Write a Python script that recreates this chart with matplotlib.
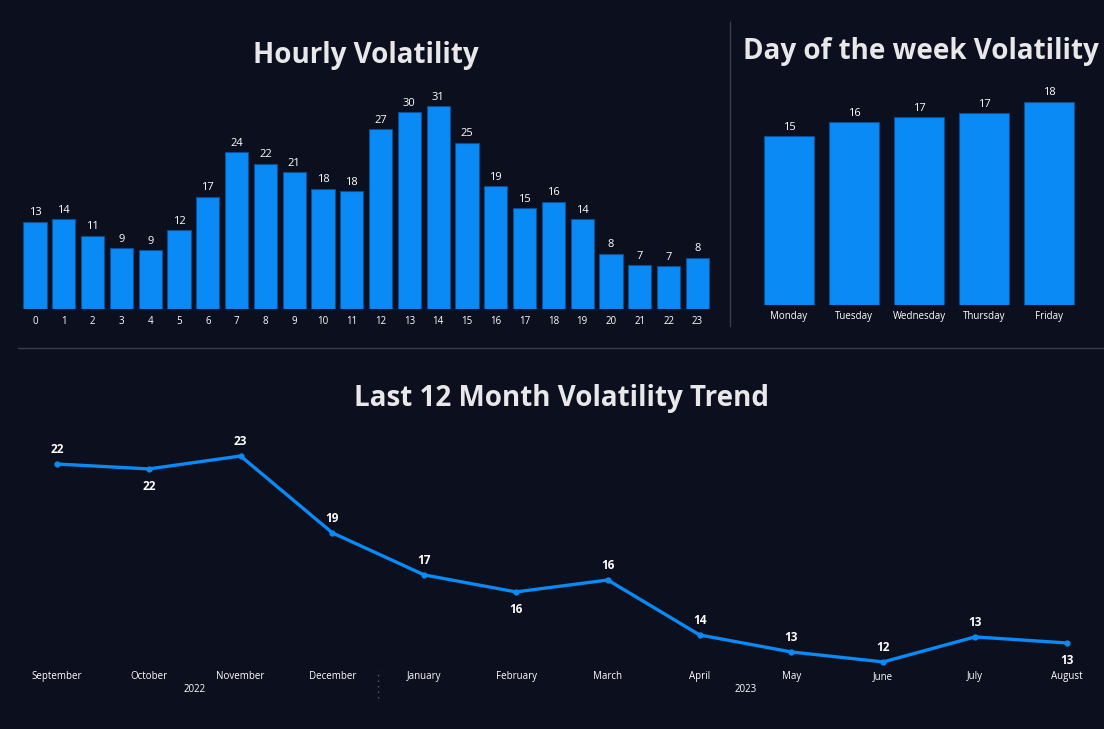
import matplotlib
matplotlib.use("Agg")
import matplotlib.pyplot as plt
from matplotlib.lines import Line2D

# data
hours = [str(h) for h in range(24)]
hourly_vol = [13.37, 13.74, 11.24, 9.31, 9.0, 12.1, 17.2, 23.97, 22.2, 20.96, 18.4, 18.0,
              27.45, 30.1, 31.0, 25.45, 18.8, 15.45, 16.45, 13.74, 8.45, 6.7, 6.6, 7.88]

days = ["Monday", "Tuesday", "Wednesday", "Thursday", "Friday"]
day_vol = [14.96, 16.2, 16.6, 16.96, 18.0]

months = ["September", "October", "November", "December", "January", "February",
          "March", "April", "May", "June", "July", "August"]
month_vol = [22.29, 22.04, 22.70, 18.77, 16.62, 15.75, 16.36, 13.55, 12.68, 12.17, 13.45, 13.14]
label_below = [False, True, False, False, False, True, False, False, False, False, False, True]
years = ["2022", "2023"]

BG = "#0b0f1e"
BLUE = "#0a8af5"
EDGE = "#0a4f96"
TXT = "#ffffff"
TITLE = "#e8e8ea"
SEP = "#3a3e4a"

plt.rcParams["font.family"] = ["Open Sans", "DejaVu Sans"]

W, H = 1104, 729
fig = plt.figure(figsize=(W / 100, H / 100), dpi=100, facecolor=BG)


def px_axes(x0, y0, x1, y1):
    # pixel box (top-left origin) -> figure axes
    ax = fig.add_axes([x0 / W, 1 - y1 / H, (x1 - x0) / W, (y1 - y0) / H])
    ax.set_facecolor(BG)
    for s in ax.spines.values():
        s.set_visible(False)
    ax.set_yticks([])
    ax.tick_params(axis="x", length=0, colors=TXT)
    return ax


# hourly volatility
ax1 = px_axes(20.6, 90, 711.8, 309.3)
ax1.bar(range(len(hours)), hourly_vol, width=0.8, color=BLUE, edgecolor=EDGE, linewidth=0.8)
ax1.set_xlim(-0.5, 23.5)
ax1.set_ylim(0, 33.48)
ax1.set_xticks(range(len(hours)))
ax1.set_xticklabels(hours, fontsize=7)
ax1.tick_params(axis="x", pad=4.5)
for i, v in enumerate(hourly_vol):
    ax1.annotate(f"{v:.0f}", (i, v), xytext=(0, 2.5), textcoords="offset points",
                 ha="center", va="bottom", color=TXT, fontsize=8)
fig.text(366 / W, 1 - 55 / H, "Hourly Volatility", ha="center", va="center",
         fontsize=20, fontweight="bold", color=TITLE)

# day of week volatility
ax2 = px_axes(756.5, 90, 1081.5, 305)
ax2.bar(range(len(days)), day_vol, width=0.77, color=BLUE, edgecolor=EDGE, linewidth=0.8)
ax2.set_xlim(-0.5, 4.5)
ax2.set_ylim(0, 19.03)
ax2.set_xticks(range(len(days)))
ax2.set_xticklabels(days, fontsize=7)
ax2.tick_params(axis="x", pad=4.5)
for i, v in enumerate(day_vol):
    ax2.annotate(f"{v:.0f}", (i, v), xytext=(0, 2.5), textcoords="offset points",
                 ha="center", va="bottom", color=TXT, fontsize=8)
fig.text(921 / W, 1 - 52 / H, "Day of the week Volatility", ha="center", va="center",
         fontsize=20, fontweight="bold", color=TITLE)

# separators
fig.add_artist(Line2D([730 / W, 730 / W], [1 - 22 / H, 1 - 326 / H], color=SEP, lw=1))
fig.add_artist(Line2D([18 / W, 1.0], [1 - 348 / H, 1 - 348 / H], color=SEP, lw=1))

# last 12 month trend
ax3 = px_axes(10, 430, 1104, 668)
xs = list(range(len(months)))
ax3.plot(xs, month_vol, color=BLUE, lw=2.4, marker="o", markersize=3.5)
ax3.set_xlim(-0.512, 11.405)
ax3.set_ylim(11.86, 24.03)
ax3.set_xticks(xs)
ax3.set_xticklabels(months, fontsize=7)
ax3.tick_params(axis="x", pad=2.5)
for i, v in enumerate(month_vol):
    off = -12.5 if label_below[i] else 10.5
    ax3.annotate(f"{v:.0f}", (i, v), xytext=(0, off), textcoords="offset points",
                 ha="center", va="center", color=TXT, fontsize=8.5, fontweight="bold")
ax3.axvline(3.5, ymin=-0.126, ymax=-0.008, clip_on=False, color="#5a5f6c",
            lw=1, linestyle=(0, (1, 3)))
ax3.text(1.5, -0.09, years[0], transform=ax3.get_xaxis_transform(),
         ha="center", va="center", color=TXT, fontsize=7)
ax3.text(7.5, -0.09, years[1], transform=ax3.get_xaxis_transform(),
         ha="center", va="center", color=TXT, fontsize=7)
fig.text(562 / W, 1 - 399 / H, "Last 12 Month Volatility Trend", ha="center", va="center",
         fontsize=20, fontweight="bold", color=TITLE)

fig.savefig("out.png", dpi=100, facecolor=BG)
